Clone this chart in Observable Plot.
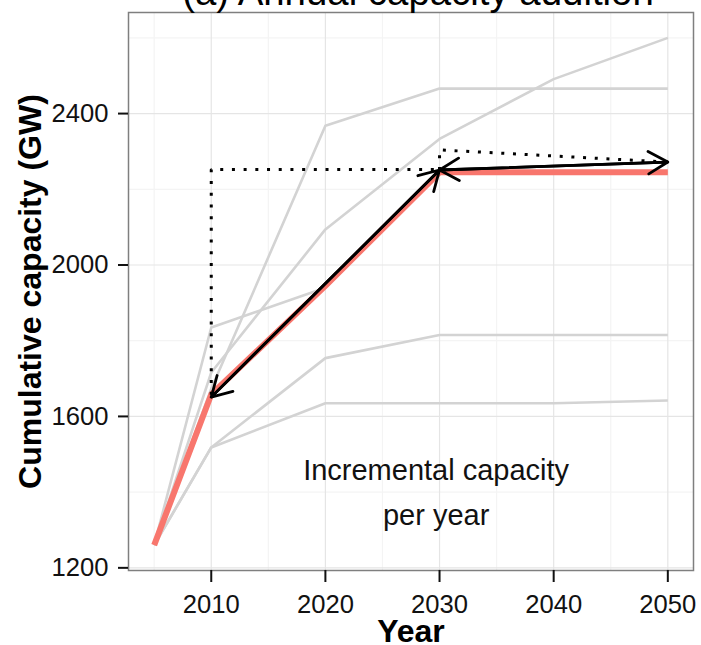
<!DOCTYPE html>
<html><head><meta charset="utf-8">
<script src="https://cdn.jsdelivr.net/npm/d3@7"></script>
<script src="https://cdn.jsdelivr.net/npm/@observablehq/plot@0.6"></script>
<style>body{margin:0;background:#fff;} svg{display:block}</style>
</head><body><div id="chart"></div>
<script>
// ---- data ----
const years = [2005, 2010, 2020, 2030, 2040, 2050];
const scenarioA = [1260, 1673, 2368, 2466, 2466, 2466];
const scenarioB = [1260, 1716, 2094, 2333, 2491, 2600];
const scenarioC = [1260, 1835, 1940, 2245, 2245, 2245];
const scenarioD = [1260, 1518, 1754, 1815, 1815, 1815];
const scenarioE = [1260, 1518, 1635, 1635, 1635, 1642];
const highlighted = [1260, 1658, 1945, 2245, 2245, 2245];

const xTicks = [2010, 2020, 2030, 2040, 2050];
const yTicks = [1200, 1600, 2000, 2400];
const xMinor = [2005, 2015, 2025, 2035, 2045];
const yMinor = [1400, 1800, 2200, 2600];

// annotation arrows (double headed): [x1, y1, x2, y2]
const arrowSteep = [2010, 1651, 2030, 2251];
const arrowFlat = [2030, 2251, 2050, 2272];
// dotted guide paths
const dotted1X = [2029.5, 2010, 2010];
const dotted1Y = [2252, 2252, 1655];
const dotted2X = [2030, 2030, 2050];
const dotted2Y = [2251, 2304, 2272];
const noteX = 2029.7, noteY = 1410;
const noteText = "Incremental capacity\nper year";

const titleText = "(a) Annual capacity addition";
const xTitle = "Year";
const yTitle = "Cumulative capacity (GW)";

// ---- build tables ----
const scenarios = {A: scenarioA, B: scenarioB, C: scenarioC, D: scenarioD, E: scenarioE};
const grayRows = Object.entries(scenarios).flatMap(([k, vals]) => vals.map((v, i) => ({series: k, year: years[i], value: v})));
const redRows = highlighted.map((v, i) => ({year: years[i], value: v}));
const seg = (a) => ({x1: a[0], y1: a[1], x2: a[2], y2: a[3]});
const rev = (a) => ({x1: a[2], y1: a[3], x2: a[0], y2: a[1]});
const arrows = [seg(arrowSteep), rev(arrowSteep), seg(arrowFlat), rev(arrowFlat)];
const dotted = [
  ...dotted1X.map((x, i) => ({g: 1, x, y: dotted1Y[i]})),
  ...dotted2X.map((x, i) => ({g: 2, x, y: dotted2Y[i]}))
];

const font = "'Liberation Sans', Arial, Helvetica, sans-serif";

const chart = Plot.plot({
  width: 701,
  height: 645,
  marginLeft: 128,
  marginRight: 8,
  marginTop: 12,
  marginBottom: 75,
  style: {fontFamily: font, background: "#fff", color: "#111"},
  x: {domain: [2002.75, 2052.25]},
  y: {domain: [1193, 2667]},
  marks: [
    Plot.ruleX(xMinor, {stroke: "#f4f4f4", strokeWidth: 1.2}),
    Plot.ruleY(yMinor, {stroke: "#f4f4f4", strokeWidth: 1.2}),
    Plot.ruleX(xTicks, {stroke: "#e5e5e5", strokeWidth: 1.2}),
    Plot.ruleY(yTicks, {stroke: "#e5e5e5", strokeWidth: 1.2}),
    Plot.line(grayRows, {x: "year", y: "value", z: "series", stroke: "#d3d3d3", strokeWidth: 2.6, strokeLinecap: "butt"}),
    Plot.line(redRows, {x: "year", y: "value", stroke: "#F8766D", strokeWidth: 6, strokeLinecap: "butt"}),
    Plot.line(dotted, {x: "x", y: "y", z: "g", stroke: "#000", strokeWidth: 3, strokeDasharray: "3,8.7", strokeLinecap: "butt", strokeLinejoin: "miter"}),
    Plot.arrow(arrows, {x1: "x1", y1: "y1", x2: "x2", y2: "y2", stroke: "#000", strokeWidth: 2.8, headLength: 12, headAngle: 60}),
    Plot.text([noteText], {x: () => noteX, y: () => noteY, text: d => d, fontSize: 29, lineHeight: 1.55, fill: "#111"}),
    Plot.frame({stroke: "#7f7f7f", strokeWidth: 1.5}),
    Plot.axisX({ticks: xTicks, tickFormat: d => String(d), tickSize: 12, tickPadding: 12, fontSize: 25.6, strokeWidth: 2, label: null, stroke: "#111", fill: "#111"}),
    Plot.axisY({ticks: yTicks, tickFormat: d => String(d), tickSize: 10, tickPadding: 10, fontSize: 25.6, strokeWidth: 2, label: null, stroke: "#111", fill: "#111"}),
    Plot.text([yTitle], {frameAnchor: "left", text: d => d, rotate: -90, textAnchor: "middle", dx: -98, fontSize: 32, fontWeight: "bold", fill: "#000"}),
    Plot.text([xTitle], {frameAnchor: "bottom", text: d => d, lineAnchor: "bottom", dy: 71, fontSize: 32, fontWeight: "bold", fill: "#000"}),
    Plot.text([titleText], {frameAnchor: "top", text: d => d, lineAnchor: "bottom", dy: -8, dx: 7, fontSize: 38.4, fill: "#000"})
  ]
});
document.getElementById("chart").append(chart);
</script>
</body></html>
